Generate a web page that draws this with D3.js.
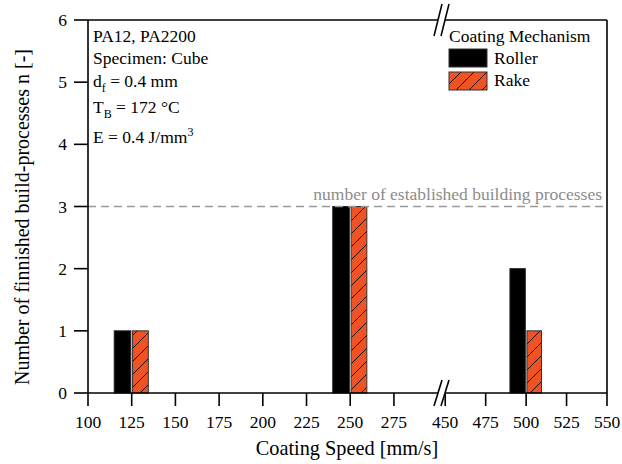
<!DOCTYPE html>
<html>
<head>
<meta charset="utf-8">
<script src="https://cdn.jsdelivr.net/npm/d3@7"></script>
<style>
  body { margin: 0; background: #fff; }
</style>
</head>
<body>
<div id="viz"></div>
<script>
// data
const speeds = [125, 250, 500];
const roller = [1, 3, 2];
const rake = [1, 3, 1];
const established = 3;
const xTicksLeft = [100, 125, 150, 175, 200, 225, 250, 275];
const xTicksRight = [450, 475, 500, 525, 550];
const yTicks = [0, 1, 2, 3, 4, 5, 6];
const infoLines = ["PA12, PA2200", "Specimen: Cube", "d|f| = 0.4 mm", "T|B| = 172 °C", "E = 0.4 J/mm^3"];

const W = 622, H = 464;
const plotLeft = 88, plotRight = 607, plotTop = 20, plotBottom = 393, breakX = 442;

const svg = d3.select("#viz").append("svg").attr("width", W).attr("height", H)
  .attr("font-family", "'Liberation Serif', 'DejaVu Serif', 'Times New Roman', serif");

// broken x axis -> two scales
const xL = d3.scaleLinear().domain([100, 302.5]).range([plotLeft, breakX]);
const xR = d3.scaleLinear().domain([448, 550]).range([breakX, plotRight]);
const x = v => v < 400 ? xL(v) : xR(v);
const y = d3.scaleLinear().domain([0, 6]).range([plotBottom, plotTop]);

// hatch pattern
const defs = svg.append("defs");
const pat = defs.append("pattern").attr("id", "hatch")
  .attr("patternUnits", "userSpaceOnUse").attr("width", 13).attr("height", 13);
pat.append("rect").attr("width", 13).attr("height", 13).attr("fill", "#ef5323");
pat.append("path").attr("d", "M-1,14 L14,-1 M-3,3 L3,-3 M10,16 L16,10")
  .attr("stroke", "#000").attr("stroke-width", 0.9);

// bars
const g = svg.append("g");
speeds.forEach((s, i) => {
  g.append("rect")
    .attr("x", x(s - 10)).attr("width", x(s - 0.5) - x(s - 10))
    .attr("y", y(roller[i])).attr("height", y(0) - y(roller[i]))
    .attr("fill", "#000").attr("stroke", "#222").attr("stroke-width", 1);
  g.append("rect")
    .attr("x", x(s + 0.5)).attr("width", x(s + 9.5) - x(s + 0.5))
    .attr("y", y(rake[i])).attr("height", y(0) - y(rake[i]))
    .attr("fill", "url(#hatch)").attr("stroke", "#333").attr("stroke-width", 1);
});

// established line
svg.append("line")
  .attr("x1", plotLeft).attr("x2", plotRight).attr("y1", y(established)).attr("y2", y(established))
  .attr("stroke", "#999").attr("stroke-width", 1.6).attr("stroke-dasharray", "8,5");
svg.append("text")
  .attr("x", 602).attr("y", y(established) - 7)
  .attr("text-anchor", "end").attr("fill", "#8c8c8c").style("font-size", "17.5px")
  .text("number of established building processes");

// frame
const frame = svg.append("g").attr("stroke", "#000").attr("stroke-width", 1.6).attr("fill", "none");
frame.append("line").attr("x1", plotLeft).attr("x2", plotRight).attr("y1", plotTop).attr("y2", plotTop);
frame.append("line").attr("x1", plotRight).attr("x2", plotRight).attr("y1", plotTop).attr("y2", plotBottom);
frame.append("line").attr("x1", plotLeft).attr("x2", plotLeft).attr("y1", plotTop).attr("y2", plotBottom);
frame.append("line").attr("x1", plotLeft).attr("x2", plotRight).attr("y1", plotBottom).attr("y2", plotBottom);

// y axis ticks
yTicks.forEach(t => {
  frame.append("line").attr("x1", plotLeft - 14).attr("x2", plotLeft).attr("y1", y(t)).attr("y2", y(t));
  svg.append("text").attr("x", plotLeft - 21).attr("y", y(t) + 6)
    .attr("text-anchor", "end").style("font-size", "17.5px").text(t);
});

// x axis ticks
xTicksLeft.concat(xTicksRight).forEach(t => {
  frame.append("line").attr("x1", x(t)).attr("x2", x(t)).attr("y1", plotBottom).attr("y2", plotBottom + 13);
  svg.append("text").attr("x", x(t)).attr("y", plotBottom + 35)
    .attr("text-anchor", "middle").style("font-size", "17.5px").text(t);
});

// axis break marks
[[plotBottom, 13], [plotTop, 16]].forEach(([yy, h]) => {
  svg.append("rect").attr("x", breakX - 4).attr("y", yy - 2).attr("width", 7).attr("height", 4).attr("fill", "#fff");
  [-4, 3].forEach(dx => {
    svg.append("line")
      .attr("x1", breakX + dx - 4).attr("y1", yy + h)
      .attr("x2", breakX + dx + 4).attr("y2", yy - h)
      .attr("stroke", "#000").attr("stroke-width", 1.6);
  });
});

// axis titles
svg.append("text").attr("x", 347).attr("y", 455)
  .attr("text-anchor", "middle").style("font-size", "20.3px").text("Coating Speed [mm/s]");
svg.append("text")
  .attr("transform", "translate(29," + 217 + ") rotate(-90)")
  .attr("text-anchor", "middle").style("font-size", "20px")
  .text("Number of finnished build-processes n [-]");

// info text
const infoY = [42, 64, 87, 113, 143];
infoLines.forEach((l, i) => {
  const t = svg.append("text").attr("x", 93).attr("y", infoY[i]).style("font-size", "17.5px");
  if (l.includes("|")) {
    const p = l.split("|");
    t.append("tspan").text(p[0]);
    t.append("tspan").attr("dy", 5).style("font-size", "12px").text(p[1]);
    t.append("tspan").attr("dy", -5).text(p[2]);
  } else if (l.includes("^")) {
    const p = l.split("^");
    t.append("tspan").text(p[0]);
    t.append("tspan").attr("dy", -7).style("font-size", "12px").text(p[1]);
  } else {
    t.text(l);
  }
});

// legend
const legend = svg.append("g");
legend.append("text").attr("x", 449).attr("y", 42).style("font-size", "17.5px").text("Coating Mechanism");
const legendItems = [["Roller", "#000"], ["Rake", "url(#hatch)"]];
legendItems.forEach(([name, fill], i) => {
  legend.append("rect").attr("x", 449).attr("y", 49 + i * 23).attr("width", 38).attr("height", 18)
    .attr("fill", fill).attr("stroke", "#333").attr("stroke-width", 1);
  legend.append("text").attr("x", 494).attr("y", 64 + i * 22).style("font-size", "17.5px").text(name);
});
</script>
</body>
</html>
